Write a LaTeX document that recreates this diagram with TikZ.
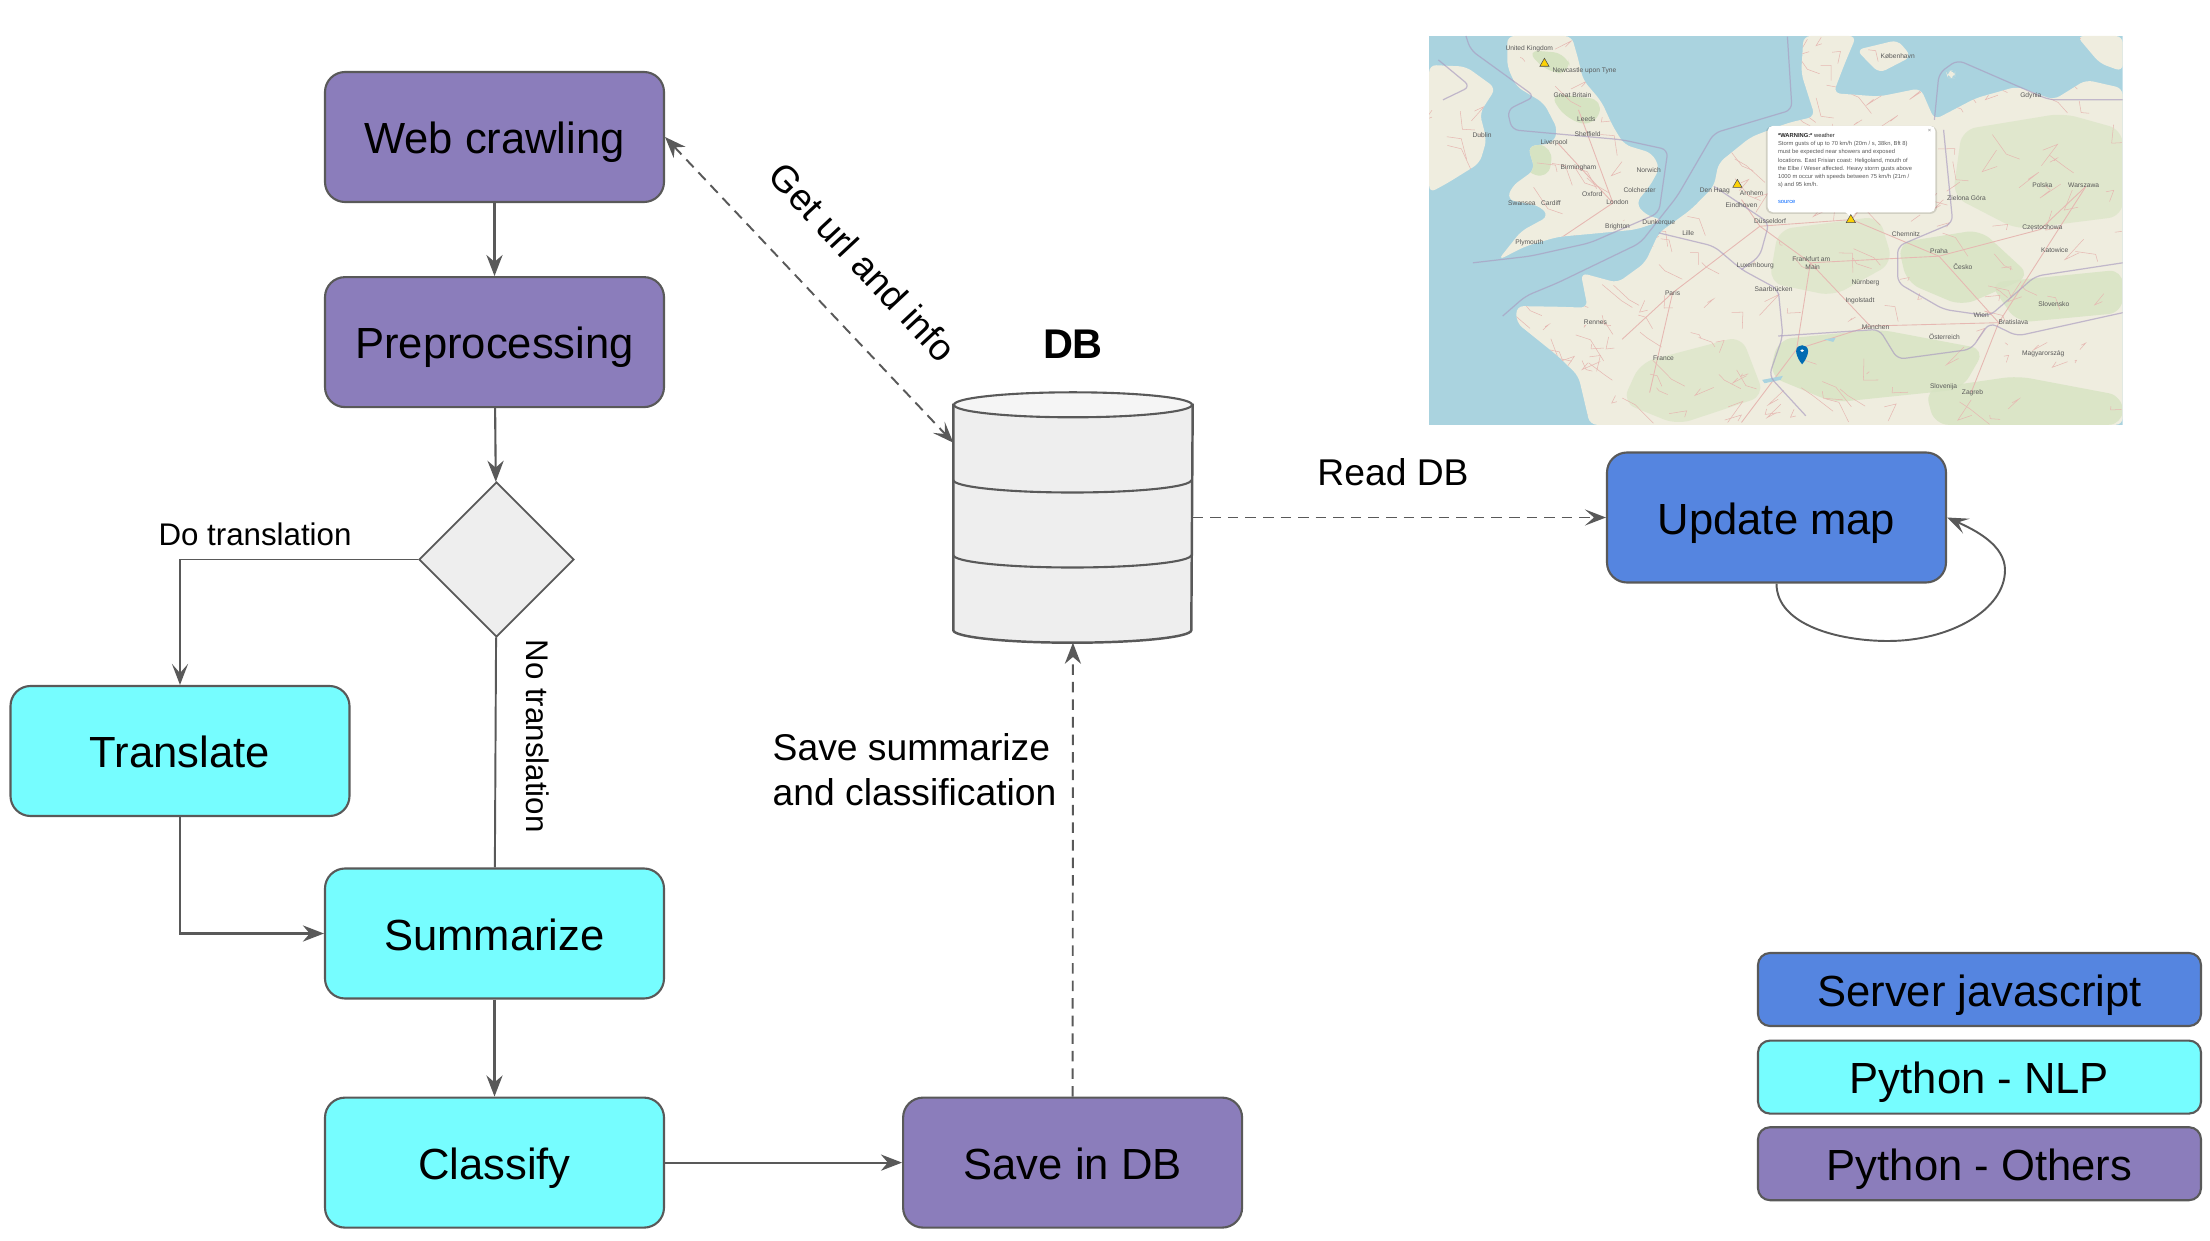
\documentclass[tikz,border=0pt]{standalone}
\usepackage{fontspec}
\setmainfont{Liberation Sans}
\usetikzlibrary{positioning,arrows.meta,shapes.geometric,calc}
\definecolor{purplebox}{HTML}{8B7DBB}
\definecolor{cyanbox}{HTML}{76FDFF}
\definecolor{bluebox}{HTML}{5585E0}
\definecolor{linegray}{HTML}{595959}
\definecolor{dbgray}{HTML}{EEEEEE}
\definecolor{mapsea}{HTML}{AAD3DF}
\definecolor{mapland}{HTML}{EFEDDF}
\definecolor{mapgreen}{HTML}{D6E3C2}
\definecolor{maproad}{HTML}{E6B8B2}
\definecolor{mapborder}{HTML}{A99BC0}
\newcommand{\landpath}{(190,18) -- (330,18) -- (345,90) -- (355,150) -- (395,215) -- (420,290) -- (445,345) -- (505,370) -- (522,415) -- (500,470) -- (470,520) -- (490,555) -- (530,572) -- (470,600) -- (380,612) -- (300,622) -- (230,650) -- (170,692) -- (220,605) -- (280,560) -- (262,530) -- (190,510) -- (200,470) -- (250,420) -- (235,350) -- (290,340) -- (300,300) -- (270,220) -- (210,170) -- (190,110) -- cycle
 (20,105) -- (100,110) -- (165,175) -- (130,250) -- (145,330) -- (130,400) -- (60,460) -- (20,490) -- cycle
 (210,830) -- (300,832) -- (365,835) -- (350,730) -- (430,760) -- (490,700) -- (520,610) -- (590,540) -- (640,470) -- (650,400) -- (720,322) -- (800,280) -- (860,260) -- (830,130) -- (835,18) -- (950,18) -- (925,100) -- (900,190) -- (1000,200) -- (1090,175) -- (1120,270) -- (1210,205) -- (1300,170) -- (1380,210) -- (1450,150) -- (1530,175) -- (1530,1187) -- (370,1187) -- (345,1040) -- (300,980) -- (210,880) -- cycle
 (1430,18) -- (1530,18) -- (1530,125) -- (1480,100) -- cycle
 (950,60) -- (1040,30) -- (1070,80) -- (1000,130) -- cycle
 (1145,125) -- (1165,120) -- (1165,145) -- (1150,145) -- cycle}
\tikzset{
  box/.style={draw=linegray,line width=.6pt,rounded corners=.2cm,minimum width=3.39cm,minimum height=1.3cm,inner sep=0pt,text height=11pt,text depth=1.6pt,font=\fontsize{12.4}{15}\selectfont},
  legendbox/.style={box,rounded corners=.12cm,minimum width=4.43cm,minimum height=.73cm},
  lbl/.style={inner sep=0pt,font=\fontsize{10.6}{12.8}\selectfont},
  smalllbl/.style={inner sep=0pt,font=\fontsize{8.9}{11}\selectfont},
  flow/.style={draw=linegray,line width=.6pt,-{Stealth[length=6pt,width=4.6pt]}},
  thinflow/.style={draw=linegray,line width=.55pt,-{Stealth[length=6pt,width=4.6pt,inset=2.6pt]}},
  plainflow/.style={draw=linegray,line width=.55pt},
  dashflow/.style={draw=linegray,line width=.55pt,dash pattern=on 3pt off 2pt},
  maptxt/.style={inner sep=0pt,text=black!65,font=\fontsize{1.9}{2.3}\selectfont},
  mapline/.style={mapborder,line width=.35pt,opacity=.65,rounded corners=2pt},
  poptxt/.style={inner sep=0pt,anchor=west,text=black!65,font=\fontsize{1.65}{2}\selectfont},
  warn/.style={draw=black!70,line width=.15pt,fill=yellow!70!orange}
}
\begin{document}
\begin{tikzpicture}
\useasboundingbox (0,0) rectangle (22.1,12.4);
\begin{scope}[shift={(14.2,12.1)},x=.00459cm,y=-.00333cm]
\clip (20,18) rectangle (1530,1187);
\fill[mapsea] (20,18) rectangle (1530,1187);
\fill[mapland,rounded corners=2pt] \landpath;
\begin{scope}
\clip[rounded corners=2pt] \landpath;
\fill[mapgreen,rounded corners=4pt] (230,60) -- (320,70) -- (330,130) -- (280,130) -- cycle;
\fill[mapgreen,rounded corners=4pt] (280,190) -- (400,210) -- (380,290) -- (320,270) -- cycle;
\fill[mapgreen,rounded corners=4pt] (230,340) -- (290,350) -- (280,450) -- (220,420) -- cycle;
\fill[mapgreen,opacity=.6,rounded corners=4pt] (780,600) -- (1000,560) -- (1030,700) -- (900,800) -- (760,760) -- cycle;
\fill[mapgreen,opacity=.8,rounded corners=4pt] (780,930) -- (1000,900) -- (1230,960) -- (1180,1080) -- (900,1120) -- (760,1040) -- cycle;
\fill[mapgreen,opacity=.8,rounded corners=4pt] (1040,640) -- (1220,600) -- (1330,740) -- (1180,830) -- (1060,760) -- cycle;
\fill[mapgreen,opacity=.8,rounded corners=4pt] (1240,760) -- (1530,720) -- (1530,850) -- (1300,880) -- cycle;
\fill[mapgreen,opacity=.6,rounded corners=4pt] (1180,300) -- (1400,250) -- (1530,300) -- (1530,560) -- (1300,600) -- (1160,500) -- cycle;
\fill[mapgreen,opacity=.6,rounded corners=4pt] (480,1000) -- (700,920) -- (750,1100) -- (560,1187) -- (440,1120) -- cycle;
\fill[mapgreen,opacity=.8,rounded corners=4pt] (1100,1080) -- (1300,1040) -- (1530,1100) -- (1530,1187) -- (1120,1187) -- cycle;
\pgfmathsetseed{7}
\foreach \i in {1,...,260}{
  \pgfmathsetmacro{\rx}{20+rnd*1510} \pgfmathsetmacro{\ry}{18+rnd*1170}
  \pgfmathsetmacro{\dx}{rnd*90-45} \pgfmathsetmacro{\dy}{rnd*130-65}
  \draw[maproad,line width=.15pt] (\rx,\ry) -- ++(\dx,\dy) -- ++(\dy*.5,\dx*.5);
}
\foreach \xa/\ya/\xb/\yb in {345/240/420/520,300/340/420/520,420/520/280/650,550/790/740/590,550/790/440/930,550/790/500/1090,740/590/850/700,850/700/980/890,850/700/1130/680,980/890/1260/880,1130/680/1260/880,1130/680/1350/600,1350/600/1450/470,850/700/820/960,980/890/820/960,820/960/700/1180,740/590/940/570,940/570/1130/680,1450/470/1260/880,1260/880/1200/1090,700/510/740/590,940/570/1040/390}
  \draw[maproad,line width=.25pt] (\xa,\ya) -- (\xb,\yb);
\end{scope}
\fill[mapsea] (745,1052) -- (790,1040) -- (785,1052) -- (750,1062) -- cycle;  \fill[mapsea] (880,930) -- (905,925) -- (900,938) -- cycle;
\draw[mapline] (40,90) -- (110,170) -- (50,210);
\draw[mapline] (520,610) -- (640,650) -- (700,720) -- (780,780) -- (790,920) -- (760,1040) -- (840,1160);
\draw[mapline] (640,470) -- (760,580) -- (740,680) -- (700,720);
\draw[mapline] (780,920) -- (1000,900) -- (1040,990) -- (1200,960) -- (1240,880) -- (1300,920) -- (1530,850);
\draw[mapline] (1140,300) -- (1160,580) -- (1040,650) -- (1040,760) -- (1140,840) -- (1240,860) -- (1340,740) -- (1530,700);
\draw[mapline] (180,860) -- (230,800) -- (300,760) -- (360,720) -- (480,640) -- (560,500) -- (640,310) -- (810,240) -- (800,20);
\draw[mapline] (115,700) -- (240,680) -- (370,640) -- (520,550) -- (540,360) -- (440,330) -- (200,300) -- (190,240) -- (250,200) -- (110,60) -- (100,18);
\draw[mapline] (1120,270) -- (1130,130) -- (1170,90) -- (1370,210) -- (1530,210);
\foreach \px/\py/\txt in {238/55/United Kingdom,358/122/Newcastle upon Tyne,332/197/Great Britain,135/317/Dublin,362/268/Leeds,292/340/Liverpool,345/413/Birmingham,285/521/Cardiff,430/517/London,430/593/Brighton,520/581/Dunkerque,584/610/Lille,550/792/Paris,530/988/France,382/880/Rennes,642/485/Den Haag,762/576/Düsseldorf,852/690/Frankfurt am,855/714/Main,970/760/Nürnberg,992/892/München,1130/665/Praha,1182/710/Česko,1355/465/Polska,1445/468/Warszawa,1355/595/Częstochowa,1382/662/Katowice,1142/922/Österreich,1222/856/Wien,1292/877/Bratislava,1380/825/Slovensko,1357/973/Magyarország,1140/1073/Slovenija,1203/1090/Zagreb,1040/80/København,1330/197/Gdynia,365/314/Sheffield,375/493/Oxford,478/480/Colchester,498/422/Norwich,238/640/Plymouth,222/520/Swansea,700/527/Eindhoven,722/491/Arnhem,1058/615/Chemnitz,1190/505/Zielona Góra,730/708/Luxembourg,770/778/Saarbrücken,958/815/Ingolstadt}
  \node[maptxt] at (\px,\py) {\txt};
\fill[black,opacity=.12,rounded corners=2pt] (753,288) rectangle (1126,553);
\fill[white,rounded corners=1.5pt] (757,288) rectangle (1122,548);
\fill[white] (925,546) -- (938,562) -- (951,546) -- cycle;
\foreach \lny/\txt in {343/{Storm gusts of up to 70 km/h (20m / s, 38kn, Bft 8)},368/{must be expected near showers and exposed},393/{locations. East Frisian coast: Heligoland, mouth of},418/{the Elbe / Weser affected. Heavy storm gusts above},441/{1000 m occur with speeds between 75 km/h (21m /},465/{s) and 95 km/h.}}
  \node[poptxt] at (778,\lny) {\txt};
\node[poptxt,text=black!85] at (778,318) {\textbf{*WARNING:*} weather};
\node[poptxt,text=blue!60!cyan] at (778,516) {source};
\node[poptxt,text=black!50] at (1104,303) {×};
\foreach \wx/\wy in {271/98,691/462,938/568}
  \draw[warn] (\wx-10,\wy+11) -- (\wx,\wy-13) -- (\wx+10,\wy+11) -- cycle;
\fill[blue!40!cyan!70!black] (832,1005) .. controls (820,985) and (819,970) .. (819,965) .. controls (819,942) and (845,942) .. (845,965) .. controls (845,970) and (844,985) .. (832,1005) -- cycle;
\fill[white] (832,964) ellipse [x radius=4,y radius=4];
\end{scope}
\node[box,fill=purplebox] (web) at (4.945,11.03) {Web crawling};
\node[box,fill=purplebox,below=.73 of web] (pre) {Preprocessing};
\node[diamond,draw=linegray,line width=.5pt,fill=dbgray,minimum width=1.55cm,minimum height=1.55cm,inner sep=0pt] (dec) at (4.965,6.805) {};
\node[box,fill=cyanbox] (tr) at (1.8,4.89) {Translate};
\node[box,fill=cyanbox] (sum) at (4.945,3.065) {Summarize};
\node[box,fill=cyanbox,below=.97 of sum] (cls) {Classify};
\node[box,fill=purplebox,right=2.37 of cls] (save) {Save in DB};
\node[box,fill=bluebox] (up) at (17.765,7.225) {Update map};
\node[minimum width=2.38cm,minimum height=2.49cm,inner sep=0pt] (db) at (10.73,7.225) {};
\draw[linegray,line width=.7pt,fill=dbgray] ($(db.north west)+(0,-.125)$) -- ($(db.south west)+(0,.125)$) arc[start angle=180,end angle=360,x radius=1.19,y radius=.125] -- ($(db.north east)+(0,-.125)$) -- cycle;
\foreach \dy in {.375,-.375} \draw[linegray,line width=.6pt] ($(db.west)+(0,\dy)$) arc[start angle=180,end angle=360,x radius=1.19,y radius=.125];
\draw[linegray,line width=.6pt,fill=black!4] ($(db.north)+(0,-.125)$) ellipse [x radius=1.19,y radius=.125];
\node[above=.33 of db,inner sep=0pt,font=\fontsize{11.8}{14}\selectfont\bfseries] (dbname) {DB};
\node[legendbox,fill=bluebox] (lgjs) at (19.795,2.505) {Server javascript};
\node[legendbox,fill=cyanbox,below=.125 of lgjs] (lgnlp) {Python - NLP};
\node[legendbox,fill=purplebox,below=.115 of lgnlp] (lgoth) {Python - Others};
\path (web) edge[flow] (pre);  \path (pre) edge[flow] (dec);  \path (dec) edge[plainflow] (sum);
\draw[thinflow] (dec.west) -| (tr.north);  \draw[flow] (tr.south) |- (sum.west);
\path (sum) edge[flow] (cls);  \path (cls) edge[flow] (save);
\path (save) edge[dashflow,-{Stealth[length=6pt,width=4.6pt]}] (db);
\draw[dashflow,{Stealth[length=6pt,width=4.6pt]}-{Stealth[length=6pt,width=4.6pt,inset=2.6pt]}] (web.east) -- (db.148);
\draw[dashflow,-{Stealth[length=6pt,width=4.6pt,inset=2.6pt]}] (db.east) -- (up.west);
\draw[plainflow,-{Stealth[length=6pt,width=4.6pt,inset=2.6pt]}] (up.south) .. controls +(0,-.42) and (18.4,5.99) .. (18.88,5.99) .. controls (19.5,5.99) and (20.05,6.3) .. (20.05,6.7) .. controls (20.05,6.95) and (19.75,7.1) .. (up.east);
\node[smalllbl] (ldo) at (2.55,7.06) {Do translation};
\node[smalllbl,rotate=-90] (lno) at (5.38,5.04) {No translation};
\node[lbl,rotate=-47] (lget) at (8.63,9.78) {Get url and info};
\node[lbl] (lread) at (13.93,7.68) {Read DB};
\node[lbl,align=left,anchor=west] (lsave) at (7.72,4.7) {Save summarize\\and classification};
\end{tikzpicture}
\end{document}
